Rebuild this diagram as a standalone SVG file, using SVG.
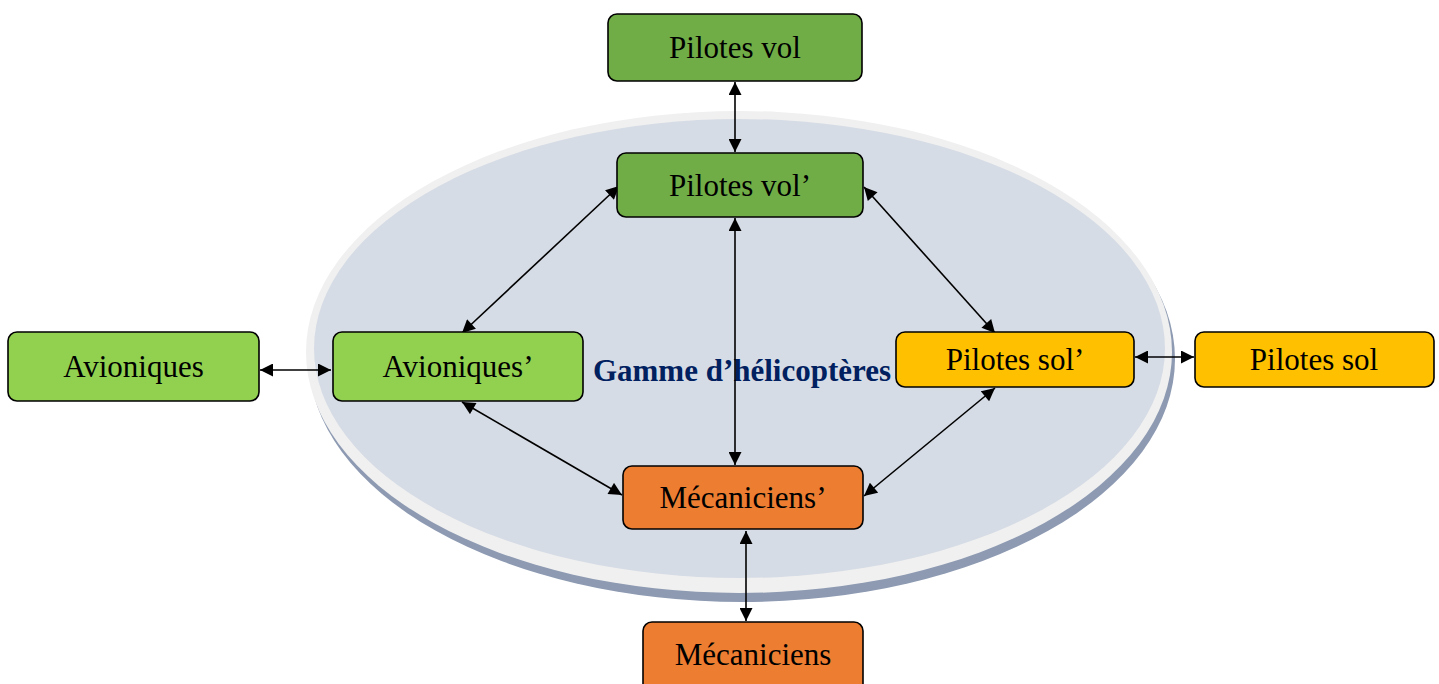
<svg xmlns="http://www.w3.org/2000/svg" width="1439" height="684" viewBox="0 0 1439 684">
<defs>
<marker id="ah" viewBox="0 0 10 10" refX="10" refY="5" markerWidth="14" markerHeight="13" markerUnits="userSpaceOnUse" orient="auto-start-reverse">
<path d="M0,0 L10,5 L0,10 Z" fill="#000"/>
</marker>
<style>
.box{stroke:#000;stroke-width:1.6}
.lbl{font-family:"Liberation Serif","Times New Roman",serif;font-size:31px;fill:#000;text-anchor:middle}
.c{stroke:#000;stroke-width:1.6;fill:none;marker-start:url(#ah);marker-end:url(#ah)}
</style>
</defs>
<rect width="1439" height="684" fill="#fff"/>
<g id="ellipse">
<ellipse cx="742" cy="359" rx="433" ry="243" fill="#8d9ab2"/>
<ellipse cx="739" cy="352" rx="433" ry="241" fill="#f0f0f0"/>
<ellipse cx="739.5" cy="348.5" rx="425.5" ry="229.5" fill="#d6dce5"/>
<text x="742" y="381" text-anchor="middle" font-family="Liberation Serif,'Times New Roman',serif" font-size="31" font-weight="bold" fill="#002060">Gamme d’hélicoptères</text>
</g>
<g id="connectors">
<line class="c" x1="735" y1="82" x2="735" y2="152"/>
<line class="c" x1="619" y1="186" x2="462" y2="333"/>
<line class="c" x1="864" y1="187" x2="995" y2="333"/>
<line class="c" x1="735" y1="218" x2="735" y2="465"/>
<line class="c" x1="260" y1="370" x2="331" y2="370"/>
<line class="c" x1="462" y1="402" x2="622" y2="495"/>
<line class="c" x1="995" y1="388" x2="864" y2="496"/>
<line class="c" x1="1135" y1="357" x2="1194" y2="357"/>
<line class="c" x1="746" y1="531" x2="746" y2="621"/>
</g>
<g id="pilotes-vol"><rect class="box" x="608" y="14" width="254" height="67" rx="9" fill="#70ad47"/><text class="lbl" x="735" y="58">Pilotes vol</text></g>
<g id="pilotes-vol-p"><rect class="box" x="617" y="153" width="246" height="64" rx="9" fill="#70ad47"/><text class="lbl" x="740" y="196">Pilotes vol’</text></g>
<g id="avioniques"><rect class="box" x="8" y="332" width="251" height="69" rx="9" fill="#92d050"/><text class="lbl" x="133.5" y="377">Avioniques</text></g>
<g id="avioniques-p"><rect class="box" x="333" y="332" width="250" height="69" rx="9" fill="#92d050"/><text class="lbl" x="458" y="377">Avioniques’</text></g>
<g id="pilotes-sol-p"><rect class="box" x="896" y="332" width="238" height="55" rx="9" fill="#ffc000"/><text class="lbl" x="1015" y="370">Pilotes sol’</text></g>
<g id="pilotes-sol"><rect class="box" x="1195" y="332" width="239" height="55" rx="9" fill="#ffc000"/><text class="lbl" x="1314" y="370">Pilotes sol</text></g>
<g id="mecaniciens-p"><rect class="box" x="623" y="466" width="240" height="63" rx="9" fill="#ed7d31"/><text class="lbl" x="743" y="508">Mécaniciens’</text></g>
<g id="mecaniciens"><rect class="box" x="643" y="622" width="220" height="80" rx="9" fill="#ed7d31"/><text class="lbl" x="753" y="665">Mécaniciens</text></g>
</svg>
